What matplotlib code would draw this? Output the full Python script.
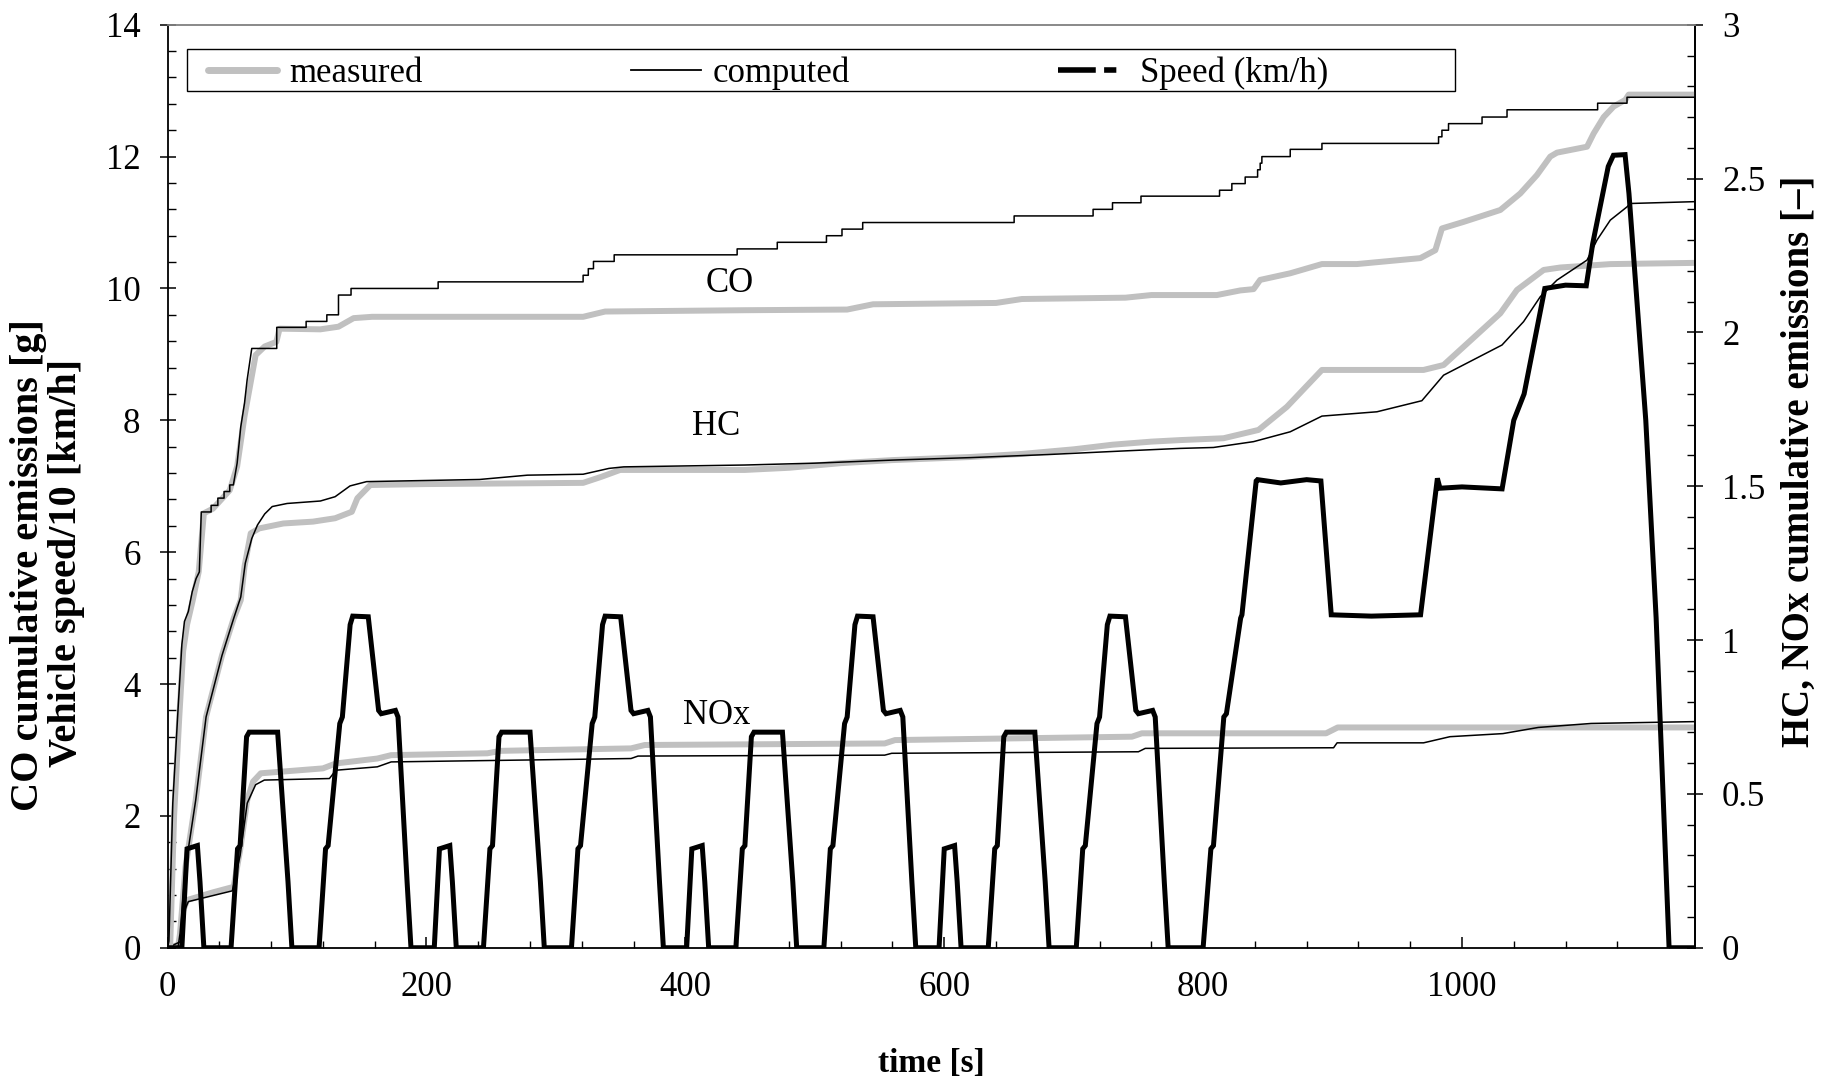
import matplotlib
matplotlib.use('Agg')
import matplotlib.pyplot as plt
from matplotlib.lines import Line2D
from matplotlib.patches import Rectangle
from matplotlib.ticker import MultipleLocator, FuncFormatter

plt.rcParams['font.family'] = ['Liberation Serif', 'DejaVu Serif']

# ---------------- data ----------------
# Vehicle speed / 10 [km/h]  (left axis)
speed_t = [0, 11, 15, 23, 25, 28, 49, 54, 56, 61, 63, 85, 93, 96, 117, 122, 124, 133, 135, 141, 143, 155, 163, 165, 176, 178, 185, 188,
           206, 210, 218, 220, 223, 244, 249, 251, 256, 258, 280, 288, 291, 312, 317, 319, 328, 330, 336, 338, 350, 358, 360, 371, 373, 380, 383,
           401, 405, 413, 415, 418, 439, 444, 446, 451, 453, 475, 483, 486, 507, 512, 514, 523, 525, 531, 533, 545, 553, 555, 566, 568, 575, 578,
           596, 600, 608, 610, 613, 634, 639, 641, 646, 648, 670, 678, 681, 702, 707, 709, 718, 720, 726, 728, 740, 748, 750, 761, 763, 770, 773,
           800, 806, 808, 816, 818, 829, 830, 841, 842, 860, 880, 891, 899, 930, 968, 981, 983, 1000, 1031, 1040, 1048, 1060, 1064,
           1080, 1096, 1101, 1113, 1117, 1126, 1129, 1142, 1150, 1160, 1180]
speed_v = [0, 0, 1.5, 1.55, 1.0, 0, 0, 1.5, 1.55, 3.2, 3.27, 3.27, 1.0, 0, 0, 1.5, 1.55, 3.4, 3.5, 4.9, 5.03, 5.02, 3.6, 3.55, 3.6, 3.5, 1.0, 0,
           0, 1.5, 1.55, 1.0, 0, 0, 1.5, 1.55, 3.2, 3.27, 3.27, 1.0, 0, 0, 1.5, 1.55, 3.4, 3.5, 4.9, 5.03, 5.02, 3.6, 3.55, 3.6, 3.5, 1.0, 0,
           0, 1.5, 1.55, 1.0, 0, 0, 1.5, 1.55, 3.2, 3.27, 3.27, 1.0, 0, 0, 1.5, 1.55, 3.4, 3.5, 4.9, 5.03, 5.02, 3.6, 3.55, 3.6, 3.5, 1.0, 0,
           0, 1.5, 1.55, 1.0, 0, 0, 1.5, 1.55, 3.2, 3.27, 3.27, 1.0, 0, 0, 1.5, 1.55, 3.4, 3.5, 4.9, 5.03, 5.02, 3.6, 3.55, 3.6, 3.5, 1.0, 0,
           0, 1.5, 1.55, 3.5, 3.55, 5.0, 5.05, 7.08, 7.1, 7.05, 7.1, 7.08, 5.05, 5.03, 5.05, 7.12, 6.97, 6.99, 6.96, 8.0, 8.4, 9.6, 10.0,
           10.05, 10.04, 10.68, 11.85, 12.02, 12.03, 11.44, 8.0, 5.0, 0, 0]

# CO cumulative emissions [g] (left axis)
co_meas_t = [0, 2, 5, 9, 12, 15, 19.4, 24, 28, 35, 48, 53.7, 59.4, 68, 75, 84, 86.5, 118, 132, 143.7, 158, 321, 338, 446,
             525, 545, 640, 660, 740, 760, 782, 810.6, 828.7, 839, 844.1, 867.3, 891.8, 918.8, 967.8, 979.4, 984.5, 1001.3,
             1029.6, 1045, 1057.9, 1068.2, 1073.4, 1096.6, 1101.7, 1109.5, 1117.2, 1126.2, 1128.8, 1180]
co_meas_v = [0, 0.05, 2.0, 3.5, 4.5, 4.9, 5.27, 5.7, 6.59, 6.66, 6.94, 7.3, 8.06, 8.99, 9.12, 9.19, 9.39, 9.38, 9.42, 9.55, 9.57, 9.57, 9.65, 9.67,
             9.68, 9.76, 9.78, 9.84, 9.86, 9.9, 9.9, 9.9, 9.97, 9.99, 10.13, 10.23, 10.37, 10.37, 10.46, 10.58, 10.91, 11.01,
             11.19, 11.44, 11.72, 12.0, 12.06, 12.15, 12.35, 12.6, 12.76, 12.86, 12.94, 12.94]

co_comp_t = [0, 1, 4, 8, 11, 13, 16, 19, 22, 24.5, 26, 33.6, 33.6, 38.8, 38.8, 43.6, 43.6, 48, 48, 50.8, 53.7, 56.5, 59.4, 61.4, 65,
             84.3, 84.3, 107, 107, 123, 123, 132, 132, 141.7, 141.7, 209, 209, 321, 321, 325, 325, 329, 329, 345, 345, 440, 440,
             471, 471, 509, 509, 521, 521, 537, 537, 654, 654, 715, 715, 730, 730, 752, 752, 812.7, 812.7, 822.2, 822.2, 832.5, 832.5,
             842.1, 842.1, 844.1, 844.1, 845.4, 845.4, 867.3, 867.3, 891.8, 891.8, 981.9, 981.9, 984.5, 984.5, 989.6, 989.6,
             1015.5, 1015.5, 1034.8, 1034.8, 1104.8, 1104.8, 1127.5, 1127.5, 1180]
co_comp_v = [0, 0.1, 2.2, 3.6, 4.6, 4.95, 5.1, 5.4, 5.6, 5.7, 6.61, 6.61, 6.71, 6.71, 6.82, 6.82, 6.92, 6.92, 7.02, 7.02, 7.35, 7.9, 8.26, 8.61, 9.09,
             9.09, 9.41, 9.41, 9.5, 9.5, 9.6, 9.6, 9.9, 9.9, 10.0, 10.0, 10.1, 10.1, 10.2, 10.2, 10.3, 10.3, 10.41, 10.41, 10.51, 10.51, 10.6,
             10.6, 10.7, 10.7, 10.8, 10.8, 10.9, 10.9, 11.0, 11.0, 11.1, 11.1, 11.2, 11.2, 11.3, 11.3, 11.4, 11.4, 11.49, 11.49, 11.59, 11.59, 11.69,
             11.69, 11.8, 11.8, 11.9, 11.9, 12.0, 12.0, 12.11, 12.11, 12.2, 12.2, 12.3, 12.3, 12.4, 12.4, 12.5,
             12.5, 12.6, 12.6, 12.71, 12.71, 12.81, 12.81, 12.9, 12.9]

# HC cumulative emissions (right axis)
hc_meas_t = [0, 8, 9.6, 13.8, 21.7, 29.7, 42, 51, 56.5, 59.4, 64.2, 70.8, 89.4, 112.3, 129.4, 142.3, 146.6, 156.6, 198, 321, 335.3, 349.6, 446,
             480, 520, 560, 620, 660, 700, 730, 760, 782.3, 815.8, 842.8, 864.7, 891.8, 970.3, 985.8, 1029.6, 1042.5, 1063.1, 1076, 1114.6, 1180]
hc_meas_v = [0, 0, 0.047, 0.263, 0.48, 0.751, 0.95, 1.07, 1.13, 1.239, 1.347, 1.363, 1.379, 1.385, 1.396, 1.417, 1.461, 1.504, 1.507, 1.511, 1.531, 1.553, 1.553,
             1.56, 1.575, 1.585, 1.595, 1.605, 1.62, 1.635, 1.645, 1.65, 1.656, 1.683, 1.758, 1.878, 1.878, 1.894, 2.062, 2.138, 2.203, 2.211, 2.222, 2.226]

hc_comp_t = [0, 8, 9.6, 13.8, 21.7, 29.7, 42, 51, 56.5, 60, 65, 69.4, 75, 80.8, 92.3, 118, 129.4, 140.9, 153.7, 241, 278, 321, 341, 352.4, 446,
             500, 560, 620, 680, 740, 782.3, 808, 839, 867.3, 891.8, 934.3, 969, 985.8, 1030.9, 1047.6, 1060.5, 1073.4, 1096.6, 1104.3, 1114.6,
             1127.5, 1130, 1180]
hc_comp_v = [0, 0, 0.047, 0.26, 0.48, 0.75, 0.95, 1.07, 1.14, 1.25, 1.33, 1.374, 1.41, 1.434, 1.444, 1.452, 1.466, 1.501, 1.515, 1.522, 1.536, 1.539, 1.558, 1.563, 1.569,
             1.575, 1.585, 1.593, 1.603, 1.615, 1.623, 1.626, 1.645, 1.677, 1.728, 1.742, 1.778, 1.861, 1.959, 2.035, 2.116, 2.17, 2.235, 2.30, 2.365,
             2.408, 2.419, 2.425]

# NOx cumulative emissions (right axis)
nox_meas_t = [0, 9, 12, 15, 19, 35, 51, 56, 61.5, 66, 72, 120, 130, 162, 172.7, 247, 257.4, 358, 368.7, 554, 562, 745, 752.7, 895, 904, 1180]
nox_meas_v = [0, 0.01, 0.12, 0.155, 0.16, 0.18, 0.198, 0.317, 0.48, 0.54, 0.567, 0.583, 0.599, 0.615, 0.626, 0.632, 0.640, 0.648, 0.659,
              0.664, 0.675, 0.686, 0.697, 0.697, 0.716, 0.716]

nox_comp_t = [0, 10, 13, 16, 50, 56, 61.5, 68, 74.7, 125, 130, 162, 172.7, 358, 363.4, 554, 559.4, 750, 755.3, 900.8, 903.5, 970.3,
              990.7, 1031.6, 1058.9, 1099.8, 1180]
nox_comp_v = [0, 0.02, 0.12, 0.15, 0.185, 0.3, 0.47, 0.53, 0.545, 0.55, 0.577, 0.588, 0.604, 0.615, 0.623, 0.626, 0.632, 0.637, 0.648, 0.65, 0.666, 0.666,
              0.686, 0.696, 0.716, 0.729, 0.735]

x_ticks = [0, 200, 400, 600, 800, 1000]
left_ticks = [0, 2, 4, 6, 8, 10, 12, 14]
right_ticks = [0, 0.5, 1, 1.5, 2, 2.5, 3]

# ---------------- figure ----------------
GRAY = '#c0c0c0'
FS = 25
LW_MEAS = 4.3
LW_COMP = 1.1
LW_SPEED = 3.6

fig = plt.figure(figsize=(18.32, 10.85), dpi=100)
ax = fig.add_axes([0.0915, 0.1265, 0.8337, 0.8507])
ax2 = ax.twinx()
ax.set_zorder(ax2.get_zorder() + 1)
ax.patch.set_visible(False)

# right axis series (drawn underneath)
ax2.plot(hc_meas_t, hc_meas_v, color=GRAY, lw=LW_MEAS, solid_capstyle='round', solid_joinstyle='round', zorder=2)
ax2.plot(hc_comp_t, hc_comp_v, color='black', lw=LW_COMP, zorder=3)
ax2.plot(nox_meas_t, nox_meas_v, color=GRAY, lw=LW_MEAS, solid_capstyle='round', solid_joinstyle='round', zorder=2)
ax2.plot(nox_comp_t, nox_comp_v, color='black', lw=LW_COMP, zorder=3)

# left axis series
ax.plot(co_meas_t, co_meas_v, color=GRAY, lw=LW_MEAS, solid_capstyle='round', solid_joinstyle='round', zorder=2)
ax.plot(co_comp_t, co_comp_v, color='black', lw=LW_COMP, zorder=3)
ax.plot(speed_t, speed_v, color='black', lw=LW_SPEED, solid_joinstyle='miter', zorder=4)

ax.set_xlim(0, 1180)
ax.set_ylim(0, 14)
ax2.set_ylim(0, 3)

ax.set_xticks(x_ticks)
ax.set_yticks(left_ticks)
ax2.set_yticks(right_ticks)
ax.xaxis.set_minor_locator(MultipleLocator(40))
ax.yaxis.set_minor_locator(MultipleLocator(0.4))
ax2.yaxis.set_minor_locator(MultipleLocator(0.1))
fmt = FuncFormatter(lambda v, p: f'{v:g}')
ax2.yaxis.set_major_formatter(fmt)
ax.yaxis.set_major_formatter(fmt)

ax.tick_params(axis='x', which='major', direction='in', length=8, width=1.1, labelsize=FS, pad=17)
ax.tick_params(axis='x', which='minor', direction='in', length=5, width=1.0)
ax.tick_params(axis='y', which='major', direction='inout', length=11, width=1.1, labelsize=FS, pad=14)
ax.tick_params(axis='y', which='minor', direction='in', length=6, width=1.0)
ax2.tick_params(axis='y', which='major', direction='inout', length=11, width=1.1, labelsize=FS, pad=14)
ax2.tick_params(axis='y', which='minor', direction='in', length=6, width=1.0)
ax.tick_params(top=False, right=False, which='both')

for s in ['left', 'bottom', 'right']:
    ax.spines[s].set_color('black')
    ax.spines[s].set_linewidth(1.3)
ax.spines['top'].set_color('#808080')
ax.spines['top'].set_linewidth(1.3)
for s in ['left', 'bottom', 'top']:
    ax2.spines[s].set_visible(False)
ax2.spines['right'].set_color('black')
ax2.spines['right'].set_linewidth(1.3)

# curve annotations
ax.text(434, 10.08, 'CO', fontsize=FS, ha='center', va='center')
ax.text(424, 7.9, 'HC', fontsize=FS, ha='center', va='center')
ax.text(424, 3.53, 'NOx', fontsize=FS, ha='center', va='center')

# axis labels
fig.text(931 / 1832, 1 - 1063 / 1085, 'time [s]', fontsize=24, fontweight='bold', ha='center', va='center')
fig.text(29 / 1832, 1 - 565 / 1085, 'CO cumulative emissions [g]', fontsize=29,
         fontweight='bold', ha='center', va='center', rotation=90)
fig.text(67 / 1832, 1 - 563 / 1085, 'Vehicle speed/10 [km/h]', fontsize=29,
         fontweight='bold', ha='center', va='center', rotation=90)
fig.text(1799 / 1832, 1 - 461 / 1085, 'HC, NOx cumulative emissions [\u2013]', fontsize=28, fontweight='bold',
         ha='center', va='center', rotation=90)

# legend box
box = Rectangle((187 / 1832, 1 - 91 / 1085), (1454.5 - 187) / 1832, 42 / 1085, transform=fig.transFigure,
                facecolor='white', edgecolor='black', lw=1.0, zorder=3)
fig.add_artist(box)

handles = [
    Line2D([], [], color=GRAY, lw=5, solid_capstyle='round'),
    Line2D([], [], color='black', lw=1.3),
    Line2D([], [], color='black', lw=4, dashes=[6.8, 1.5, 2.2, 3.0]),
]
labels = ['measured', 'computed', 'Speed (km/h)']
leg = fig.legend(handles, labels, ncol=3, loc='center left',
                 bbox_to_anchor=(208 / 1832, 1 - 73 / 1085),
                 fontsize=FS, frameon=False, borderpad=0.0, handlelength=2.0, handletextpad=0.35,
                 columnspacing=6.0, borderaxespad=0.0)
leg.set_zorder(6)

fig.savefig('out.png', dpi=100, facecolor='white')
